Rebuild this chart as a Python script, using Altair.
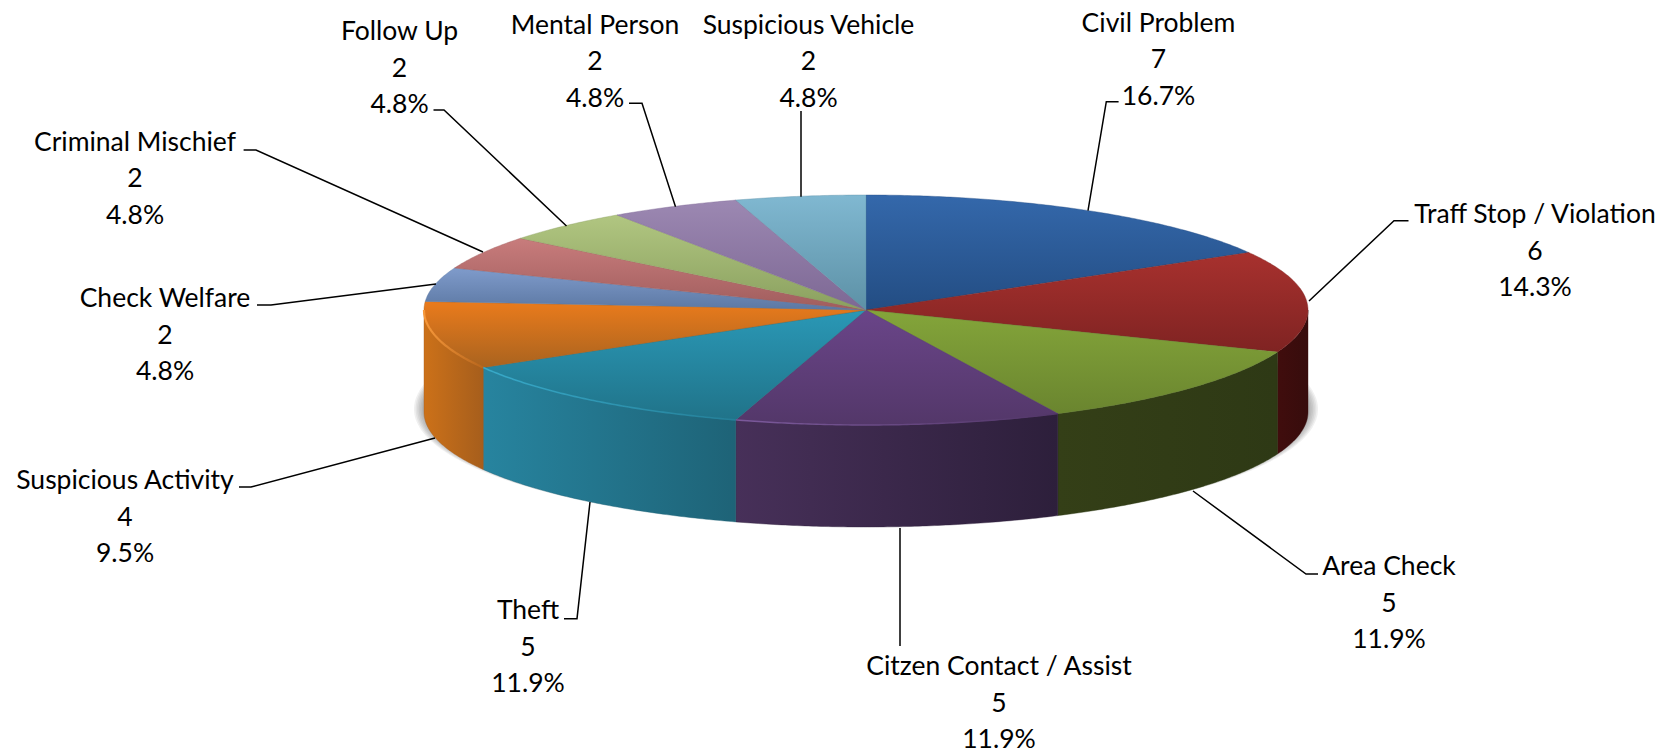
import math
import altair as alt
import pandas as pd

# ---- chart values ----
categories = ["Civil Problem", "Traff Stop / Violation", "Area Check", "Citzen Contact / Assist",
              "Theft", "Suspicious Activity", "Check Welfare", "Criminal Mischief",
              "Follow Up", "Mental Person", "Suspicious Vehicle"]
counts = [7, 6, 5, 5, 5, 4, 2, 2, 2, 2, 2]

# ---- styles ----
top_light = ["#3468ab", "#a8312e", "#84a53a", "#6a4589", "#2a98b6", "#ea7b1c",
             "#7f9bcb", "#c87c7c", "#b1c681", "#9c88b2", "#80b8d1"]
top_dark = ["#234d83", "#7f2322", "#6a852f", "#533769", "#207389", "#a9631f",
            "#5c78a3", "#a05d5d", "#8aa05f", "#7d6894", "#5d91a6"]
side_left = [None, "#400d0d", "#343f17", "#473059", "#27849f", "#cc7119"]
side_right = [None, "#370c0c", "#2e3915", "#2d1f3b", "#1e6377", "#a65e1c"]
rim_colors = {3: ("#7c5a9c", "#523668", 1.4), 4: ("#38aaca", "#247f98", 1.6), 5: ("#b8661c", "#f7983a", 2.2)}

# ---- layout (pixels in the page picture) ----
CX, CY, RX, RY, DEPTH = 858, 302, 442, 115, 102   # page coords minus the 8px margin
label_xy = [(1158.5, 23.5), (1535, 215), (1389, 567), (999, 667), (528, 611), (125, 481),
            (165, 299), (135, 142.5), (399.5, 32), (595, 25.5), (808.5, 25.5)]
LINE_STEP = 36.5
leaders = [
    [(1118.6, 101.7), (1106.3, 101.7), (1088, 210.7)],
    [(1408.5, 220.7), (1394, 220.7), (1309, 301)],
    [(1318, 574), (1306, 574), (1193, 491)],
    [(900, 646), (900, 528)],
    [(564, 618.7), (577, 618.7), (590, 502)],
    [(239, 487), (251, 487), (435, 438)],
    [(257, 305), (271, 305), (436, 284)],
    [(243.6, 150), (256, 150), (483, 252)],
    [(433.5, 110), (444, 110), (566.5, 226)],
    [(629, 103.3), (642, 103.3), (675.5, 206.7)],
    [(801, 111), (801, 196.7)],
]
FONT = "Lato"
FONT_SIZE = 26.5

W, H = 1651, 744


def pt(deg, dy=0.0, rx=RX, ry=RY, cy=CY):
    a = math.radians(deg)
    return [CX + rx * math.sin(a), cy - ry * math.cos(a) + dy]


def arc(a0, a1, dy=0.0, **kw):
    n = max(2, int(abs(a1 - a0)) * 2)
    return [pt(a0 + (a1 - a0) * i / n, dy, **kw) for i in range(n + 1)]


def geo(kind, coords, **mark):
    feature = {"type": "Feature", "properties": {}, "geometry": {"type": kind, "coordinates": coords}}
    data = alt.Data(values={"type": "FeatureCollection", "features": [feature]},
                    format=alt.DataFormat(property="features", type="json"))
    return alt.Chart(data).mark_geoshape(**mark).project(type="identity", scale=1, translate=[0, 0])


def grad(horizontal, c0, c1):
    return {"gradient": "linear", "x1": 0, "y1": 0, "x2": 1 if horizontal else 0, "y2": 0 if horizontal else 1,
            "stops": [{"offset": 0, "color": c0}, {"offset": 1, "color": c1}]}


layers = []

# soft shadow below the pie
for k in range(8):
    ring = arc(0, 360, 0, rx=RX + 10 - k * 1.6, ry=RY + 2.5 - k * 0.4, cy=CY + DEPTH - 3)
    layers.append(geo("Polygon", [ring + [ring[0]]], fill="#555555", fillOpacity=0.09, stroke="#555555", strokeWidth=0))

total = sum(counts)
angles = [0.0]
for c in counts:
    angles.append(angles[-1] + 360.0 * c / total)

# side walls
for i in range(len(side_left)):
    a0, a1 = max(angles[i], 90), min(angles[i + 1], 270)
    if a1 <= a0 or side_left[i] is None:
        continue
    upper = arc(a1, a0)
    lower = arc(a0, a1, DEPTH)
    ring = upper + lower + [upper[0]]
    layers.append(geo("Polygon", [ring], fill=grad(True, side_left[i], side_right[i]),
                      stroke=side_right[i], strokeWidth=0.4))

# top surface
for i in range(len(counts)):
    ring = [[CX, CY]] + arc(angles[i], angles[i + 1]) + [[CX, CY]]
    layers.append(geo("Polygon", [ring], fill=grad(False, top_light[i], top_dark[i]),
                      stroke=top_dark[i], strokeWidth=0.4))

# light rim on the front edge, fading to the right
for i, (c0, c1, width) in rim_colors.items():
    layers.append(geo("LineString", arc(angles[i], min(angles[i + 1], 270)), filled=False,
                      stroke=grad(True, c1 if i == 5 else c0, c0 if i == 5 else c1), strokeWidth=width))

# leader lines
for line in leaders:
    layers.append(geo("LineString", [[x - 8, y - 8] for x, y in line], filled=False,
                      stroke="#000000", strokeWidth=1.5))

# labels
rows = []
for name, c, (x, y) in zip(categories, counts, label_xy):
    for j, text in enumerate([name, str(c), f"{100 * c / total:.1f}%"]):
        rows.append({"x": x - 8, "y": y - 8 + j * LINE_STEP, "text": text})
labels = alt.Chart(pd.DataFrame(rows)).mark_text(
    font=FONT, fontSize=FONT_SIZE, align="center", baseline="middle", color="#000000"
).encode(
    x=alt.X("x:Q", scale=None, axis=None),
    y=alt.Y("y:Q", scale=None, axis=None),
    text="text:N",
)
layers.append(labels)

chart = alt.layer(*layers).properties(
    width=W, height=H, padding=0, autosize=alt.AutoSizeParams(type="none")
).configure_view(stroke=None)

chart.save("out.html", embed_options={"renderer": "svg", "actions": False})
